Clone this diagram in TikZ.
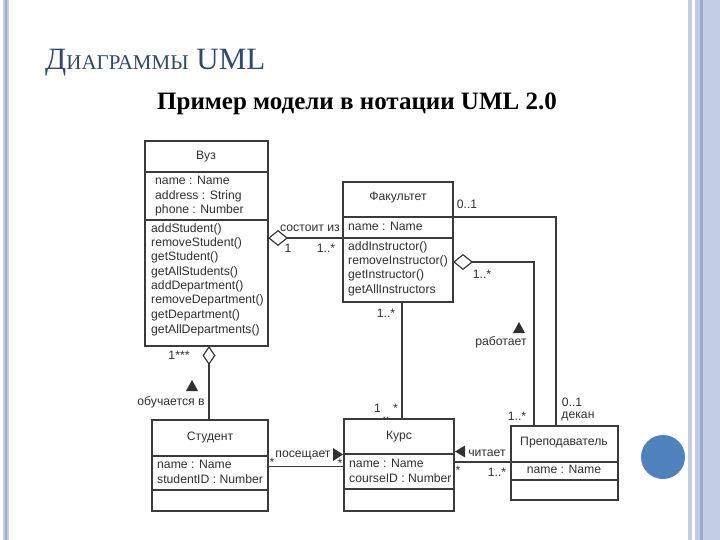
\documentclass[tikz,border=0pt]{standalone}
\usepackage{fontspec}
\setmainfont{Liberation Serif}
\newfontfamily\boxfont{Liberation Sans}
\usetikzlibrary{arrows.meta,calc}
\definecolor{ln}{HTML}{3A3A3A}
\definecolor{tx}{HTML}{303030}
\definecolor{ttl}{HTML}{2E4A6E}
\definecolor{bandA}{HTML}{C3CDE4}
\definecolor{bandB}{HTML}{9AACD4}
\definecolor{circ}{HTML}{4F81BD}
\begin{document}
\begin{tikzpicture}[x=1pt,y=-1pt,
  umlbox/.style={draw=ln,line width=1.2pt,rectangle,inner sep=0pt,outer sep=0pt,anchor=north west},
  divline/.style={draw=ln,line width=1.2pt},
  conn/.style={draw=ln,line width=1.2pt},
  lbl/.style={font=\boxfont\fontsize{12.2}{14}\selectfont,text=tx,inner sep=0pt},
  row/.style={lbl,anchor=mid west},
  ttlrow/.style={lbl,anchor=mid},
  tri/.style={fill=tx}
]
\fill[white] (0,0) rectangle (720,540);
\useasboundingbox (0,0) rectangle (720,540);
% slide decoration
\fill[bandA] (3,0) rectangle (9,540);
\fill[bandB] (5,0) rectangle (7,540);
\fill[bandA] (688,0) rectangle (692,540);
\fill[bandA] (695,0) rectangle (720,540);
\fill[bandB] (699.5,0) rectangle (702.5,540);
\fill[circ] (663,457) circle[radius=22pt];
% titles
\node[anchor=base west,text=ttl,inner sep=0pt] (title) at (45,70)
  {{\fontsize{31}{31}\selectfont Д}{\fontsize{21}{21}\selectfont ИАГРАММЫ}{\fontsize{31}{31}\selectfont\ UML}};
\node[anchor=base,inner sep=0pt,font=\bfseries\fontsize{25}{25}\selectfont] (sub) at (357,110) {Пример модели в нотации UML 2.0};
% boxes
\node[umlbox,minimum width=123pt,minimum height=205pt] (vuz) at (145,141) {};
\node[umlbox,minimum width=110pt,minimum height=120pt] (fak) at (343,182) {};
\node[umlbox,minimum width=116pt,minimum height=91pt] (stud) at (152,420) {};
\node[umlbox,minimum width=110pt,minimum height=92pt] (kurs) at (344,419) {};
\node[umlbox,minimum width=107pt,minimum height=74pt] (prep) at (511,426) {};
% dividers
\draw[divline] (vuz.west |- 0,172) -- (vuz.east |- 0,172);
\draw[divline] (vuz.west |- 0,220) -- (vuz.east |- 0,220);
\draw[divline] (fak.west |- 0,217) -- (fak.east |- 0,217);
\draw[divline] (fak.west |- 0,238) -- (fak.east |- 0,238);
\draw[divline] (stud.west |- 0,456) -- (stud.east |- 0,456);
\draw[divline] (stud.west |- 0,490) -- (stud.east |- 0,490);
\draw[divline] (kurs.west |- 0,454) -- (kurs.east |- 0,454);
\draw[divline] (kurs.west |- 0,489) -- (kurs.east |- 0,489);
\draw[divline] (prep.west |- 0,462) -- (prep.east |- 0,462);
\draw[divline] (prep.west |- 0,480) -- (prep.east |- 0,480);
% Вуз
\node[ttlrow] (vuzT) at (206,157) {Вуз};
\node[row] (v1) at (155,182) {name : Name};
\node[row] (v2) at (155,197) {address : String};
\node[row] (v3) at (155,211) {phone : Number};
\node[row] (m1) at (151,230) {addStudent()};
\node[row] (m2) at (151,244) {removeStudent()};
\node[row] (m3) at (151,258) {getStudent()};
\node[row] (m4) at (151,273) {getAllStudents()};
\node[row] (m5) at (151,287) {addDepartment()};
\node[row] (m6) at (151,301) {removeDepartment()};
\node[row] (m7) at (151,316) {getDepartment()};
\node[row] (m8) at (151,331) {getAllDepartments()};
% Факультет
\node[ttlrow] (fakT) at (398,198) {Факультет};
\node[row] (f1) at (348,228) {name : Name};
\node[row] (f2) at (348,248) {addInstructor()};
\node[row] (f3) at (348,262) {removeInstructor()};
\node[row] (f4) at (348,276) {getInstructor()};
\node[row] (f5) at (348,291) {getAllInstructors};
% Студент
\node[ttlrow] (studT) at (210,438) {Студент};
\node[row] (s1) at (157,466) {name : Name};
\node[row] (s2) at (157,481) {studentID : Number};
% Курс
\node[ttlrow] (kursT) at (399,437) {Курс};
\node[row] (k1) at (349,465) {name : Name};
\node[row] (k2) at (349,480) {courseID : Number};
% Преподаватель
\node[ttlrow] (prepT) at (564,443) {Преподаватель};
\node[ttlrow] (p1) at (564,471) {name : Name};
% connectors
\draw[conn,{Diamond[open,length=20pt,width=16pt]}-] ([yshift=4pt]fak.west -| vuz.east) -- ([yshift=4pt]fak.west);
\coordinate (w1) at (534,262);
\draw[conn,{Diamond[open,length=20pt,width=16pt]}-] (w1 -| fak.east) -- (w1) -- (w1 |- prep.north);
\coordinate (w2) at (556,217);
\draw[conn] (w2 -| fak.east) -- (w2) -- (w2 |- prep.north);
\draw[conn] ([xshift=4pt]fak.south) -- ([xshift=4pt]fak.south |- kurs.north);
\draw[conn,{Diamond[open,length=19pt,width=13pt]}-] ([xshift=2.5pt]vuz.south) -- ([xshift=2.5pt]vuz.south |- stud.north);
\draw[conn] ([yshift=-1pt]stud.east) -- ([yshift=-1pt]stud.east -| kurs.west);
\draw[conn] ([yshift=3pt]kurs.east) -- ([yshift=3pt]kurs.east -| prep.west);
% labels
\node[lbl] (c1) at (310,228) {состоит из};
\node[lbl] (c2) at (288,248) {1};
\node[lbl] (c3) at (326,248) {1..*};
\node[lbl] (d1) at (467,204) {0..1};
\node[lbl] (r1) at (482,274) {1..*};
\fill[tri] (513,333) -- (525,333) -- (519,322) -- cycle;
\node[lbl] (r2) at (501,342) {работает};
\node[lbl] (r3) at (517,416) {1..*};
\node[lbl] (d2) at (572,402) {0..1};
\node[lbl] (d3) at (578,416) {декан};
\node[lbl] (k3) at (386,313) {1..*};
\node[lbl] (k4) at (386,408) {1\quad*};
\node[lbl] (k5) at (386,418) {..};
\node[lbl] (o1) at (179,355) {1***};
\fill[tri] (186,391) -- (198,391) -- (192,380) -- cycle;
\node[lbl] (o2) at (171,402) {обучается в};
\node[lbl] (n1) at (303,455) {посещает};
\fill[tri] (333,448) -- (333,461) -- (343,454.5) -- cycle;
\node[lbl] (n2) at (272,462) {*};
\node[lbl] (n3) at (340,463) {*};
\fill[tri] (465,445.5) -- (465,457.5) -- (455,451.5) -- cycle;
\node[lbl] (ch1) at (487,453) {читает};
\node[lbl] (ch2) at (458,470) {*};
\node[lbl] (ch3) at (497,472) {1..*};
\end{tikzpicture}
\end{document}
